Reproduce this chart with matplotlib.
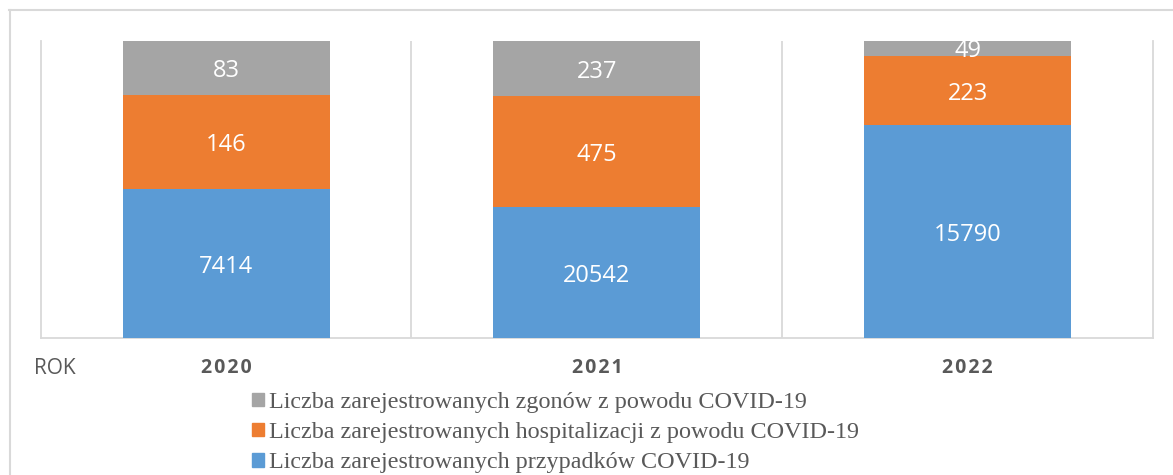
import matplotlib
matplotlib.use("Agg")
import matplotlib.pyplot as plt
from matplotlib.patches import Patch
from matplotlib.lines import Line2D

# ---- data ----
years = ["2020", "2021", "2022"]
# displayed segment heights (as drawn in the reference chart)
cases_height = [149, 131, 213]
hosp_height = [94.7, 111, 69.3]
deaths_height = [54, 55, 15]
# data labels shown on the segments
cases_labels = ["7414", "20542", "15790"]
hosp_labels = ["146", "475", "223"]
deaths_labels = ["83", "237", "49"]
series_names = [
    "Liczba zarejestrowanych zgonów z powodu COVID-19",
    "Liczba zarejestrowanych hospitalizacji z powodu COVID-19",
    "Liczba zarejestrowanych przypadków COVID-19",
]
axis_title = "ROK"

C_BLUE = "#5b9bd5"
C_ORANGE = "#ed7d31"
C_GRAY = "#a5a5a5"
GRID = "#d9d9d9"
TXT = "#595959"

W, H = 1173, 475
fig = plt.figure(figsize=(W / 100, H / 100), dpi=100)
ax = fig.add_axes([40.7 / W, 1 - 338 / H, (1153 - 40.7) / W, (338 - 41) / H])

x = list(range(len(years)))
bw = 207 / 370.7
b1 = ax.bar(x, cases_height, width=bw, color=C_BLUE, zorder=3)
bottom2 = [a for a in cases_height]
b2 = ax.bar(x, hosp_height, width=bw, bottom=bottom2, color=C_ORANGE, zorder=3)
bottom3 = [a + b for a, b in zip(cases_height, hosp_height)]
b3 = ax.bar(x, deaths_height, width=bw, bottom=bottom3, color=C_GRAY, zorder=3)

lab_font = dict(color="white", fontsize=17, family=["Open Sans", "DejaVu Sans"],
                ha="center", va="center_baseline", zorder=5)
for bars, labels in ((b1, cases_labels), (b2, hosp_labels), (b3, deaths_labels)):
    for rect, lab in zip(bars, labels):
        cx = rect.get_x() + rect.get_width() / 2
        cy = rect.get_y() + rect.get_height() / 2
        ax.text(cx, cy, lab, clip_on=False, **lab_font)

ax.set_xlim(-0.5, len(years) - 0.5)
ax.set_ylim(0, sum([cases_height[2], hosp_height[2], deaths_height[2]]))
for sep in [0.5, 1.5]:
    ax.axvline(sep, color=GRID, lw=1.3, zorder=1)
for s in ["left", "right", "bottom"]:
    ax.spines[s].set_color(GRID)
    ax.spines[s].set_linewidth(1.3)
ax.spines["top"].set_visible(False)
ax.set_yticks([])
ax.set_xticks(x)
ax.set_xticklabels(["\u200a".join(y) for y in years],
                   family=["Open Sans", "DejaVu Sans"], fontweight="bold",
                   fontsize=14, color=TXT)
ax.tick_params(axis="x", length=0, pad=14.5)

fig.text(55 / W, 1 - 368 / H, axis_title, ha="center", va="center",
         fontsize=15, color=TXT, family=["Open Sans", "DejaVu Sans"])

handles = [Patch(color=C_GRAY), Patch(color=C_ORANGE), Patch(color=C_BLUE)]
leg = fig.legend(handles, series_names, loc="upper left",
                 bbox_to_anchor=(252 / W, 1 - 392 / H), frameon=False,
                 prop={"family": "Liberation Serif", "size": 17.4},
                 handlelength=0.5, handleheight=0.5, handletextpad=0.2,
                 labelspacing=0.38, borderpad=0, borderaxespad=0)
for t in leg.get_texts():
    t.set_color(TXT)

# outer chart border
fig.add_artist(Line2D([9 / W, 1], [1 - 9.5 / H, 1 - 9.5 / H], transform=fig.transFigure,
                      color=GRID, lw=1.5))
fig.add_artist(Line2D([9.5 / W, 9.5 / W], [0, 1 - 9.5 / H], transform=fig.transFigure,
                      color=GRID, lw=1.5))

fig.savefig("out.png", dpi=100, facecolor="white")
